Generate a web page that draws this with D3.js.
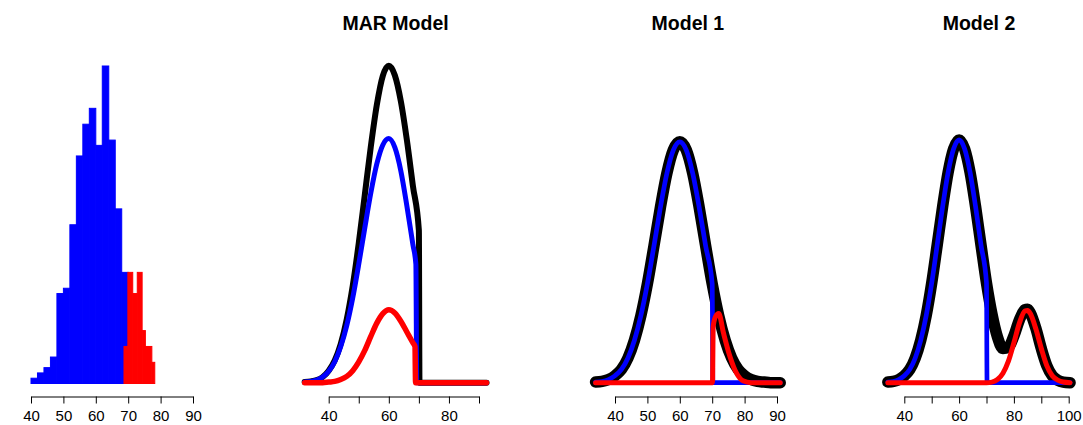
<!DOCTYPE html>
<html>
<head>
<meta charset="utf-8">
<script src="https://cdn.jsdelivr.net/npm/d3@7"></script>
<style>
  body { margin: 0; background: #fff; }
  svg { display: block; font-family: "Liberation Sans", Arial, sans-serif; }
</style>
</head>
<body>
<div id="container"></div>
<script>
let width = 1083;
let height = 425;

// histogram (panel 1): bin breaks and counts
var histBlueBreaks = [33, 40, 42, 44, 46, 48, 50, 52, 54, 56, 58, 60, 62, 64, 66, 68, 70];
var histBlueCounts = [0, 1, 2, 3, 5, 17, 18, 30, 43, 49, 52, 45, 60, 46, 33, 21];
var histRedBreaks = [68.7, 69.9, 71.4, 72.8, 74.3, 75.3, 77.3, 78.2];
var histRedCounts = [7, 21, 17, 21, 10, 7, 4];
var histTicks = [40, 50, 60, 70, 80, 90];

// MAR model densities
var marBlackX = [32, 34, 36, 38, 40, 42, 44, 46, 48, 50, 52, 54, 56, 58, 60, 62, 64, 66, 68, 70, 70.2, 92.5];
var marBlack = [0.0001, 0.0002, 0.0004, 0.0009, 0.0019, 0.0035, 0.0061, 0.0100, 0.0153, 0.0220, 0.0296, 0.0372, 0.0438, 0.0484, 0.0500, 0.0485, 0.0444, 0.0383, 0.0311, 0.0240, 0, 0];
var marBlueX = [32, 34, 36, 38, 40, 42, 44, 46, 48, 50, 52, 54, 56, 58, 60, 62, 64, 66, 68, 69, 69.3, 92.5];
var marBlue = [0.0001, 0.0002, 0.0004, 0.0009, 0.0018, 0.0033, 0.0057, 0.0090, 0.0134, 0.0187, 0.0244, 0.0299, 0.0345, 0.0375, 0.0385, 0.0371, 0.0334, 0.0279, 0.0218, 0.0187, 0, 0];
var marRedX = [32, 34, 36, 38, 40, 42, 44, 46, 48, 50, 52, 54, 56, 58, 60, 62, 64, 66, 68, 68.7, 68.9, 92.5];
var marRed = [0, 0, 0, 0, 0.0001, 0.0002, 0.0005, 0.0010, 0.0019, 0.0033, 0.0051, 0.0073, 0.0094, 0.0109, 0.0115, 0.0110, 0.0097, 0.0080, 0.0063, 0.0057, 0, 0];
var marTicks = [40, 50, 60, 70, 80, 90];
var marLabels = ["40", "", "60", "", "80", ""];

// Model 1 densities
var m1BlackX = [34, 36, 38, 40, 42, 44, 46, 48, 50, 52, 54, 56, 58, 60, 62, 64, 66, 68, 70, 72, 74, 76, 78, 80, 82, 84, 86, 88, 91];
var m1Black = [0.0001, 0.0002, 0.0005, 0.0011, 0.0021, 0.0039, 0.0067, 0.0106, 0.0156, 0.0215, 0.0276, 0.0330, 0.0367, 0.0380, 0.0367, 0.0330, 0.0276, 0.0215, 0.0156, 0.0106, 0.0067, 0.0039, 0.0021, 0.0011, 0.0005, 0.0002, 0.0001, 0, 0];
var m1BlueX = [34, 36, 38, 40, 42, 44, 46, 48, 50, 52, 54, 56, 58, 60, 62, 64, 66, 68, 70, 70.2, 91];
var m1Blue = [0.0001, 0.0002, 0.0005, 0.0011, 0.0021, 0.0039, 0.0067, 0.0106, 0.0156, 0.0215, 0.0276, 0.0330, 0.0367, 0.0380, 0.0367, 0.0330, 0.0276, 0.0215, 0.0156, 0, 0];
var m1RedX = [34, 70.1, 70.3, 71, 72, 73.5, 75.5, 77.5, 79.5, 82, 91];
var m1Red = [0, 0, 0.0088, 0.0104, 0.0109, 0.0078, 0.0041, 0.0015, 0.0003, 0, 0];
var m1Ticks = [40, 50, 60, 70, 80, 90];

// Model 2 densities
var m2BlackX = [34, 36, 38, 40, 42, 44, 46, 48, 50, 52, 54, 56, 58, 60, 62, 64, 66, 68, 70, 72, 74, 76, 78, 80, 82, 84, 85, 86, 88, 90, 92, 94, 96, 98, 100.5];
var m2Black = [0.0001, 0.0002, 0.0005, 0.0011, 0.0021, 0.0039, 0.0067, 0.0106, 0.0157, 0.0217, 0.0278, 0.0332, 0.0369, 0.0383, 0.0369, 0.0332, 0.0278, 0.0217, 0.0157, 0.0108, 0.0072, 0.0054, 0.0056, 0.0074, 0.0099, 0.0115, 0.0116, 0.0110, 0.0086, 0.0054, 0.0027, 0.0011, 0.0004, 0.0001, 0];
var m2BlueX = [34, 36, 38, 40, 42, 44, 46, 48, 50, 52, 54, 56, 58, 60, 62, 64, 66, 68, 70, 70.2, 100.5];
var m2Blue = [0.0001, 0.0002, 0.0005, 0.0011, 0.0021, 0.0039, 0.0067, 0.0106, 0.0157, 0.0217, 0.0278, 0.0332, 0.0369, 0.0383, 0.0369, 0.0332, 0.0278, 0.0217, 0.0157, 0, 0];
var m2RedX = [34, 70, 72, 74, 76, 78, 80, 82, 84, 85, 86, 88, 90, 92, 94, 96, 98, 100.5];
var m2Red = [0, 0, 0.0001, 0.0005, 0.0015, 0.0034, 0.0063, 0.0094, 0.0113, 0.0114, 0.0109, 0.0085, 0.0054, 0.0027, 0.0011, 0.0004, 0.0001, 0];
var m2Ticks = [40, 50, 60, 70, 80, 90, 100];
var m2Labels = ["40", "", "60", "", "80", "", "100"];

let viz = d3.select("#container").append("svg")
    .attr("width", width)
    .attr("height", height);

var axisY = 396.5;

function drawAxis(x, ticks, labels) {
  let g = viz.append("g")
    .attr("transform", "translate(0," + axisY + ")")
    .call(d3.axisBottom(x)
      .tickValues(ticks)
      .tickSize(7)
      .tickSizeOuter(0)
      .tickPadding(6.5)
      .tickFormat(function(d, i){ return labels ? labels[i] : d; }));
  g.attr("font-family", null).attr("font-size", null);
  g.selectAll("path, line").attr("stroke", "#000").attr("stroke-width", 1);
  g.selectAll("text").style("font-size", "15px").attr("fill", "#000");
}

// ---- panel 1: histogram
let hx = d3.scaleLinear().domain([40, 90]).range([31, 193]);
let hy = d3.scaleLinear().domain([0, 60]).range([383.5, 66]);

function drawHist(breaks, counts, color) {
  viz.append("g").selectAll("rect")
    .data(counts)
    .enter().append("rect")
      .attr("x", function(d, i){ return hx(breaks[i]); })
      .attr("width", function(d, i){ return hx(breaks[i + 1]) - hx(breaks[i]); })
      .attr("y", function(d){ return hy(d); })
      .attr("height", function(d){ return hy(0) - hy(d); })
      .attr("fill", color)
      .attr("stroke", color)
      .attr("stroke-width", 1);
}
drawHist(histBlueBreaks, histBlueCounts, "#0000ff");
drawHist(histRedBreaks, histRedCounts, "#ff0000");
drawAxis(hx, histTicks);

// ---- density panels share the same vertical scale
let dy = d3.scaleLinear().domain([0, 0.05]).range([382.7, 65.7]);

function drawCurve(x, xs, ys, color, lw) {
  let line = d3.line()
    .x(function(d, i){ return x(xs[i]); })
    .y(function(d){ return dy(d); })
    .curve(d3.curveMonotoneX);
  viz.append("path")
    .attr("d", line(ys))
    .attr("fill", "none")
    .attr("stroke", color)
    .attr("stroke-width", lw)
    .attr("stroke-linecap", "round")
    .attr("stroke-linejoin", "round");
}

function drawTitle(x, xmin, xmax, title) {
  viz.append("text")
    .attr("x", x((xmin + xmax) / 2))
    .attr("y", 30)
    .attr("text-anchor", "middle")
    .style("font-size", "19.5px")
    .style("font-weight", "bold")
    .text(title);
}

// MAR model
let mx = d3.scaleLinear().domain([40, 90]).range([328.7, 479]);
drawCurve(mx, marBlackX, marBlack, "#000", 6);
drawCurve(mx, marBlueX, marBlue, "#0000ff", 5);
drawCurve(mx, marRedX, marRed, "#ff0000", 5.5);
drawAxis(mx, marTicks, marLabels);
drawTitle(mx, 32, 92.5, "MAR Model");

// Model 1
let m1x = d3.scaleLinear().domain([40, 90]).range([615, 777]);
drawCurve(m1x, m1BlackX, m1Black, "#000", 11.5);
drawCurve(m1x, m1BlueX, m1Blue, "#0000ff", 4.7);
drawCurve(m1x, m1RedX, m1Red, "#ff0000", 5);
drawAxis(m1x, m1Ticks);
drawTitle(m1x, 34, 91, "Model 1");

// Model 2
let m2x = d3.scaleLinear().domain([40, 100]).range([904.3, 1068.7]);
drawCurve(m2x, m2BlackX, m2Black, "#000", 11.5);
drawCurve(m2x, m2BlueX, m2Blue, "#0000ff", 4.7);
drawCurve(m2x, m2RedX, m2Red, "#ff0000", 5);
drawAxis(m2x, m2Ticks, m2Labels);
drawTitle(m2x, 34, 100.5, "Model 2");
</script>
</body>
</html>
